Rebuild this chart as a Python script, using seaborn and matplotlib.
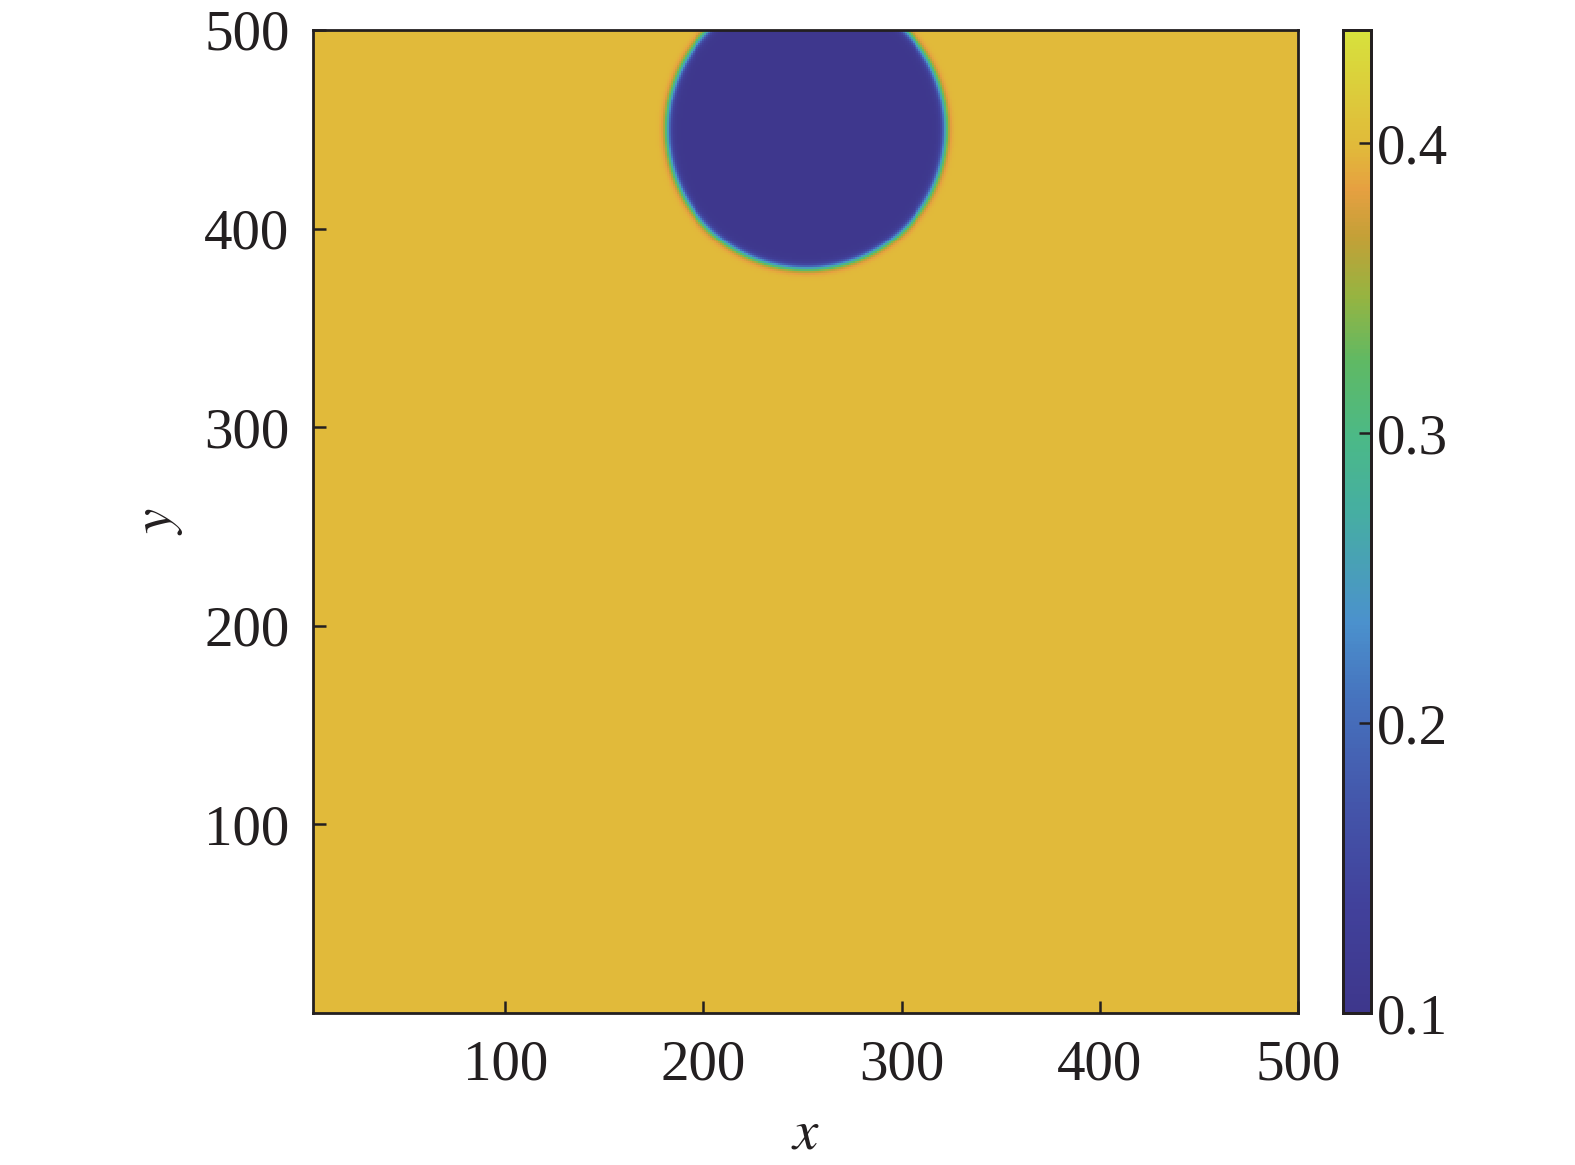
import numpy as np
import pandas as pd
import seaborn as sns
import matplotlib.pyplot as plt
from matplotlib.colors import LinearSegmentedColormap

# grid and field parameters
x_values = np.arange(1, 501)
y_values = np.arange(1, 501)
drop_center = [252, 450]
drop_radius = 70
inner_value = 0.102
outer_value = 0.400
interface_width = 2.2

x_ticks = [100, 200, 300, 400, 500]
y_ticks = [100, 200, 300, 400, 500]
cbar_ticks = [0.1, 0.2, 0.3, 0.4]
vmin, vmax = 0.1, 0.439

# parula-like colormap, colours as they look in the printed colorbar
cmap_pos = [0.0, 0.108, 0.21, 0.32, 0.397, 0.515, 0.585, 0.663, 0.73, 0.79, 0.839, 0.882, 1.0]
cmap_rgb = [
    (62, 55, 140),
    (65, 65, 155),
    (68, 85, 170),
    (70, 115, 190),
    (75, 145, 205),
    (70, 175, 160),
    (75, 185, 135),
    (95, 185, 100),
    (150, 180, 65),
    (195, 160, 55),
    (230, 160, 65),
    (225, 185, 58),
    (215, 225, 60),
]
parula = LinearSegmentedColormap.from_list(
    "parula", [(p, tuple(c / 255 for c in rgb)) for p, rgb in zip(cmap_pos, cmap_rgb)])

X, Y = np.meshgrid(x_values, y_values)
r = np.sqrt((X - drop_center[0]) ** 2 + (Y - drop_center[1]) ** 2)
phi = inner_value + (outer_value - inner_value) * 0.5 * (1 + np.tanh((r - drop_radius) / interface_width))
df = pd.DataFrame(phi, index=y_values, columns=x_values)

sns.set_style("white")
plt.rcParams['font.family'] = ['Liberation Serif', 'DejaVu Serif']
plt.rcParams['mathtext.fontset'] = 'stix'

fig = plt.figure(figsize=(15.75, 11.65), dpi=100)
ax = fig.add_axes([313 / 1575, 1 - 1013 / 1165, (1298 - 313) / 1575, (1013 - 30) / 1165])
cax = fig.add_axes([1343 / 1575, 1 - 1013 / 1165, 28 / 1575, (1013 - 30) / 1165])

sns.heatmap(df, cmap=parula, vmin=vmin, vmax=vmax, ax=ax, cbar_ax=cax,
            xticklabels=False, yticklabels=False, rasterized=True)
ax.set_axisbelow(False)
cax.set_axisbelow(False)

# heatmap cell j covers [j, j+1] -> value j+1 at centre j+0.5
ax.set_xlim(3 - 0.5, 500 - 0.5)
ax.set_ylim(5 - 0.5, 500 - 0.5)
ax.set_xticks([v - 0.5 for v in x_ticks])
ax.set_xticklabels([str(v) for v in x_ticks])
ax.set_yticks([v - 0.5 for v in y_ticks])
ax.set_yticklabels([str(v) for v in y_ticks], rotation=0)

for spine in ax.spines.values():
    spine.set_visible(True)
    spine.set_linewidth(2.0)
    spine.set_color('#231f20')
ax.tick_params(direction='in', length=9, width=1.8, color='#231f20',
               labelsize=41, labelcolor='#231f20', pad=19,
               bottom=True, left=True, top=False, right=False)
ax.tick_params(axis='y', pad=17)
ax.set_xlabel('$x$', fontsize=41, color='#231f20', labelpad=12)
ax.set_ylabel('$y$', fontsize=41, color='#231f20', labelpad=14)

cax.set_yticks(cbar_ticks)
cax.set_yticklabels([f"{v:.1f}" for v in cbar_ticks])
cax.tick_params(axis='y', direction='in', length=9, width=1.8, color='#231f20',
                labelsize=41, labelcolor='#231f20', pad=4, right=True, left=False)
for spine in cax.spines.values():
    spine.set_visible(True)
    spine.set_linewidth(2.0)
    spine.set_color('#231f20')

fig.savefig('out.png', dpi=100)
